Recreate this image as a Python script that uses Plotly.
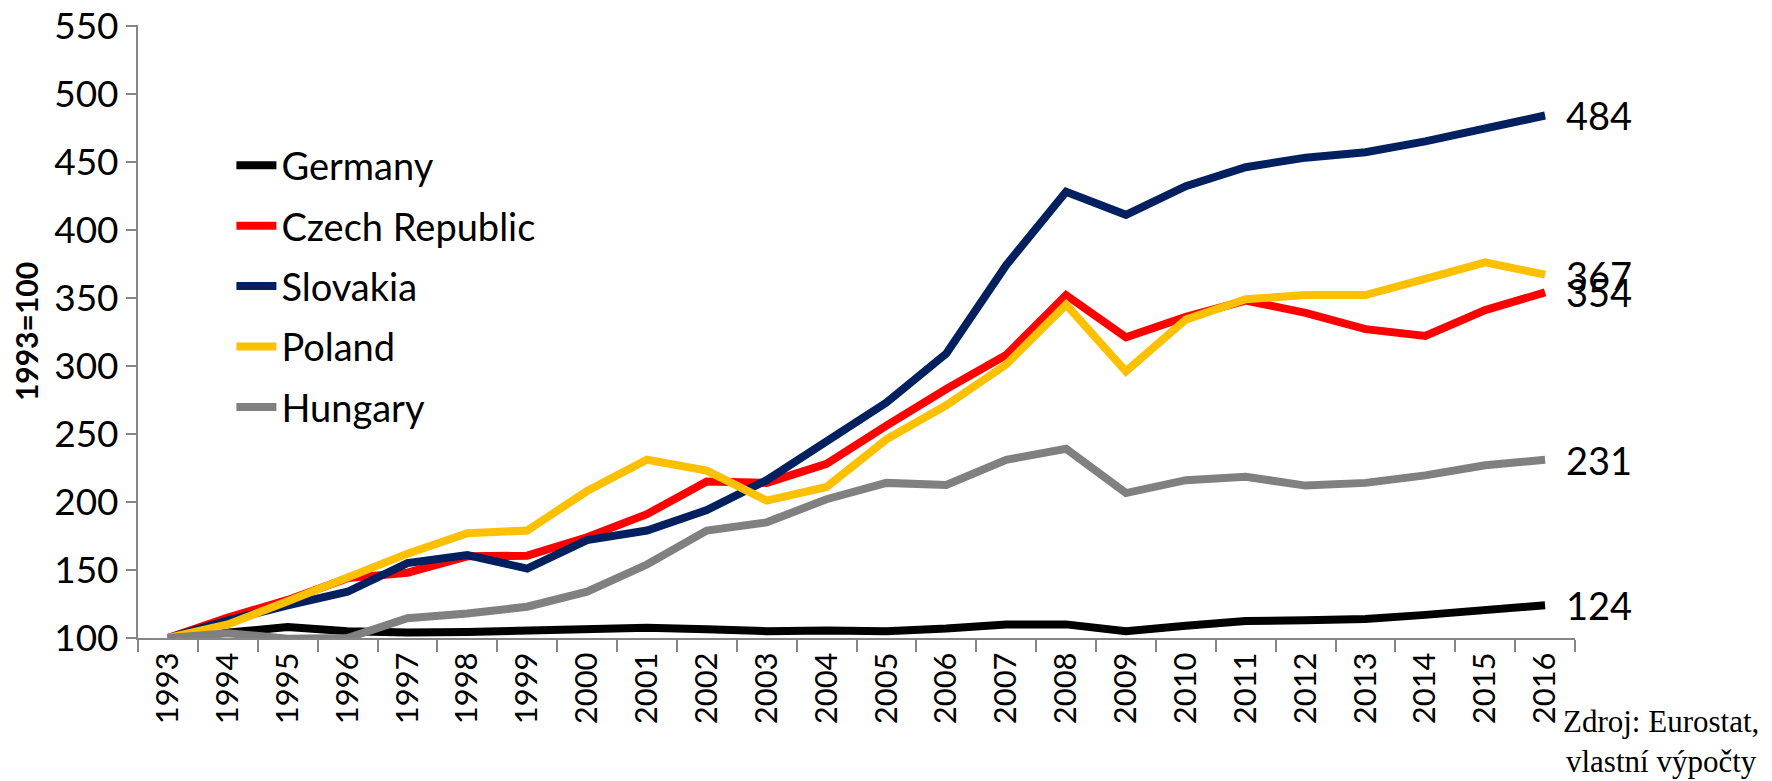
import plotly.graph_objects as go

years = [str(y) for y in range(1993, 2017)]

germany = [100, 104, 108, 105, 104, 104.5, 105.5, 106.5, 107.5, 106.5, 105, 105.5,
           105, 107, 110, 110, 105, 109, 112.5, 113, 114, 117, 120, 124]
czech = [100, 115, 128, 144, 148, 160, 160.5, 174, 191, 215, 214, 228,
         256, 283, 308, 352, 321, 336, 348, 339, 327, 322, 341, 354]
slovakia = [100, 113, 124, 134, 155, 161, 151, 172, 179, 194, 216, 245,
            273, 309, 374, 428, 411, 432, 446, 453, 457, 465, 475, 484]
poland = [100, 110, 127, 145, 162, 177, 179, 208, 231, 223, 201, 211,
          246, 271, 301, 345, 296, 334, 349, 352, 352, 364, 376, 367]
hungary = [100, 103.5, 99.5, 100, 114.5, 118, 123, 134, 154, 179, 185, 202,
           214, 212.5, 231, 239, 206.5, 216, 218.5, 212, 214, 219.5, 227, 231]

series = [
    ("Germany", germany, "#000000"),
    ("Czech Republic", czech, "#FF0000"),
    ("Slovakia", slovakia, "#002060"),
    ("Poland", poland, "#FFC000"),
    ("Hungary", hungary, "#808080"),
]

end_labels = ["124", "354", "484", "367", "231"]
y_ticks = list(range(100, 551, 50))

FONT = "Lato, Calibri, sans-serif"

fig = go.Figure()
for name, vals, col in series:
    fig.add_trace(go.Scatter(
        x=years, y=vals, name=name, mode="lines",
        line=dict(color=col, width=8),
        legendgroup=name,
    ))

last_idx = len(years) - 1
for (name, vals, col), lab in zip(series, end_labels):
    fig.add_annotation(
        x=last_idx, y=vals[-1], text=lab, showarrow=False,
        xanchor="left", yanchor="middle", xshift=19,
        font=dict(family=FONT, size=38, color="#000000"),
    )

fig.add_annotation(
    xref="paper", yref="paper", x=1.06, y=-0.169,
    text="Zdroj: Eurostat,<br>vlastní výpočty", showarrow=False,
    xanchor="center", yanchor="middle", align="center",
    font=dict(family="Liberation Serif, Times New Roman, serif", size=31, color="#000000"),
)

fig.update_layout(
    width=1764, height=773,
    margin=dict(l=130, r=197, t=17, b=143, autoexpand=False),
    paper_bgcolor="white", plot_bgcolor="white",
    showlegend=True,
    legend=dict(
        x=0.065, y=0.822, xanchor="left", yanchor="top",
        font=dict(family=FONT, size=38, color="#000000"),
        bgcolor="rgba(0,0,0,0)", traceorder="grouped", tracegroupgap=8,
        itemwidth=40,
    ),
    xaxis=dict(
        type="category", showgrid=False, showline=True, linecolor="#868686", linewidth=2,
        ticks="outside", tickson="boundaries", ticklen=12, tickcolor="#868686", tickwidth=2,
        tickangle=-90, tickfont=dict(family=FONT, size=31, color="#000000"),
        range=[-0.5, 23.5], automargin=False,
    ),
    yaxis=dict(
        range=[100, 550.5], tickmode="array", tickvals=y_ticks,
        ticktext=[str(v) for v in y_ticks], ticklabeloverflow="allow",
        showgrid=False, zeroline=False, automargin=False,
        showline=True, linecolor="#868686", linewidth=2,
        ticks="outside", ticklen=10, tickcolor="#868686", tickwidth=2,
        tickfont=dict(family=FONT, size=37, color="#000000"),
        title=dict(text="<b>1993=100</b>", font=dict(family=FONT, size=30, color="#000000"), standoff=14),
    ),
)

fig.write_html("out.html")
